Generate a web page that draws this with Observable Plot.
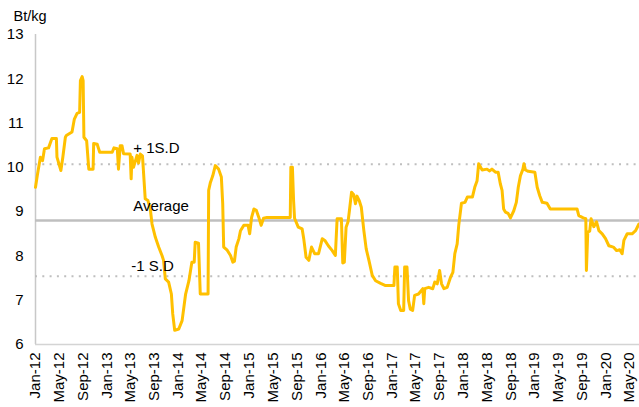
<!DOCTYPE html>
<html><head><meta charset="utf-8">
<script src="https://cdn.jsdelivr.net/npm/d3@7"></script>
<script src="https://cdn.jsdelivr.net/npm/@observablehq/plot@0.6"></script>
<style>body{margin:0;background:#fff} svg{display:block}</style>
</head><body><div id="chart"></div>
<script>
const dates = [
"2012-01-01","2012-01-10","2012-01-26","2012-02-06","2012-02-16","2012-03-08","2012-03-25","2012-04-17","2012-04-20","2012-05-10",
"2012-05-20","2012-06-02","2012-06-07","2012-07-06","2012-07-18","2012-08-01","2012-08-14","2012-08-18","2012-08-27","2012-09-01",
"2012-09-05","2012-09-19","2012-09-30","2012-10-22","2012-10-25","2012-11-12","2012-11-25","2013-01-28","2013-02-06","2013-02-23",
"2013-03-01","2013-03-10","2013-03-19","2013-03-27","2013-04-30","2013-05-05","2013-05-09","2013-05-17","2013-06-04","2013-06-12",
"2013-06-21","2013-07-02","2013-07-16","2013-07-30","2013-08-11","2013-08-20","2013-09-06","2013-09-23","2013-10-10","2013-10-18",
"2013-10-27","2013-11-13","2013-11-27","2013-12-04","2013-12-14","2014-01-04","2014-01-21","2014-02-08","2014-02-25","2014-03-12",
"2014-03-24","2014-03-29","2014-04-15","2014-04-24","2014-06-03","2014-06-06","2014-06-15","2014-06-27","2014-07-10","2014-07-27",
"2014-08-10","2014-08-17","2014-08-22","2014-09-09","2014-09-26","2014-10-08","2014-10-16","2014-10-25","2014-11-08","2014-11-16",
"2014-12-03","2014-12-25","2015-01-02","2015-01-12","2015-01-24","2015-02-05","2015-02-18","2015-03-02","2015-03-14","2015-04-01",
"2015-07-29","2015-08-01","2015-08-09","2015-08-15","2015-08-20","2015-09-08","2015-09-28","2015-10-06","2015-10-18","2015-11-01",
"2015-11-15","2015-12-01","2015-12-21","2016-01-09","2016-01-22","2016-02-09","2016-02-29","2016-03-16","2016-03-25","2016-04-16",
"2016-04-23","2016-05-01","2016-05-10","2016-05-20","2016-05-27","2016-06-07","2016-06-18","2016-06-27","2016-07-05","2016-07-17",
"2016-07-27","2016-08-09","2016-08-21","2016-09-04","2016-09-21","2016-10-08","2016-11-03","2016-11-28","2017-01-10","2017-01-15",
"2017-01-27","2017-02-02","2017-02-14","2017-03-01","2017-03-06","2017-03-18","2017-03-26","2017-04-04","2017-04-16","2017-04-26",
"2017-05-16","2017-06-07","2017-06-12","2017-06-17","2017-07-07","2017-07-28","2017-08-07","2017-08-20","2017-09-01","2017-09-11",
"2017-09-23","2017-10-10","2017-10-27","2017-11-08","2017-11-18","2017-11-30","2017-12-08","2017-12-22","2018-01-09","2018-01-21",
"2018-02-16","2018-02-28","2018-03-12","2018-03-20","2018-04-07","2018-05-02","2018-05-14","2018-05-27","2018-06-14","2018-06-28",
"2018-07-09","2018-07-18","2018-07-26","2018-08-04","2018-08-18","2018-08-30","2018-09-16","2018-09-29","2018-10-09","2018-10-20",
"2018-11-02","2018-11-07","2018-11-15","2018-11-29","2019-01-02","2019-01-14","2019-01-27","2019-02-09","2019-03-05","2019-03-22",
"2019-08-06","2019-08-15","2019-09-07","2019-09-20","2019-09-23","2019-09-30","2019-10-10","2019-10-17","2019-10-31","2019-11-14",
"2019-11-26","2019-12-13","2019-12-30","2020-01-16","2020-02-08","2020-02-25","2020-03-12","2020-03-24","2020-04-02","2020-04-19",
"2020-05-14","2020-06-01","2020-06-18"
];
const prices = [
9.55,9.81,10.23,10.15,10.42,10.44,10.65,10.65,10.23,9.93,
10.23,10.68,10.72,10.80,11.09,11.22,11.24,11.96,12.05,11.96,
10.68,10.60,9.96,9.96,10.54,10.52,10.34,10.34,10.44,10.42,
9.96,10.49,10.49,10.31,10.30,9.74,10.23,10.00,10.27,10.10,
10.30,10.26,9.29,9.25,9.06,8.72,8.42,8.20,8.01,7.90,
7.48,7.41,7.14,6.69,6.32,6.35,6.54,7.14,7.44,7.86,
7.86,8.31,8.29,7.14,7.14,9.48,9.66,9.81,10.04,9.96,
9.78,9.18,8.20,8.13,8.01,7.86,7.88,8.20,8.39,8.57,
8.69,8.69,8.50,8.87,9.06,9.03,8.87,8.69,8.85,8.87,
8.87,10.00,10.00,9.25,8.85,8.65,8.61,8.39,7.97,7.90,
8.20,8.05,8.05,8.39,8.35,8.23,8.12,8.01,8.84,8.84,
7.84,7.86,8.65,8.77,9.02,9.44,9.38,9.18,9.35,9.24,
9.10,8.57,8.16,7.90,7.56,7.44,7.38,7.33,7.33,7.75,
7.75,6.92,6.77,6.77,7.75,7.75,6.99,6.80,6.77,7.11,
7.14,7.26,6.92,7.26,7.29,7.26,7.41,7.37,7.67,7.37,
7.26,7.29,7.52,7.63,8.05,8.27,8.69,9.19,9.21,9.33,
9.33,9.55,9.70,10.08,9.94,9.96,9.92,9.96,9.89,9.89,
9.63,9.48,9.06,8.99,8.96,8.86,9.02,9.21,9.55,9.81,
9.96,10.08,9.94,9.91,9.89,9.55,9.36,9.21,9.19,9.06,
9.06,8.91,8.86,8.84,7.67,8.54,8.56,8.84,8.66,8.77,
8.57,8.50,8.39,8.23,8.20,8.12,8.14,8.05,8.35,8.50,
8.50,8.57,8.72
];
const xTickLabels = ["Jan-12","May-12","Sep-12","Jan-13","May-13","Sep-13","Jan-14","May-14","Sep-14",
"Jan-15","May-15","Sep-15","Jan-16","May-16","Sep-16","Jan-17","May-17","Sep-17","Jan-18","May-18",
"Sep-18","Jan-19","May-19","Sep-19","Jan-20","May-20"];
const yTicks = [6,7,8,9,10,11,12,13];
const xDomain = ["2012-01-01","2020-06-21"];
const unitLabel = "Bt/kg";
const refNames = ["+ 1S.D","Average","-1 S.D"];
const refValues = [10.07, 8.80, 7.54];
const refLabelY = [10.44, 9.12, 7.77];
const refLabelX = ["2013-05-16","2013-05-16","2013-05-06"];

const parse = d3.utcParse("%Y-%m-%d");
const parseTick = d3.utcParse("%b-%y");
const series = dates.map((d, i) => ({date: parse(d), value: prices[i]}));
const ticks = xTickLabels.map(parseTick);
const refs = refNames.map((n, i) => ({name: n, value: refValues[i], ly: refLabelY[i], lx: parse(refLabelX[i])}));
const font = "'Liberation Sans', Arial, sans-serif";

const chart = Plot.plot({
  width: 639, height: 407,
  marginLeft: 35, marginRight: 0, marginTop: 34, marginBottom: 63,
  style: {fontFamily: font, fontSize: "15px", color: "#000", background: "#fff"},
  x: {type: "utc", domain: xDomain.map(parse)},
  y: {domain: [6, 13]},
  marks: [
    Plot.axisY({ticks: yTicks, tickFormat: d3.format("d"), tickSize: 0, tickPadding: 12, label: null, fontSize: 15}),
    Plot.axisX({ticks, tickFormat: d3.utcFormat("%b-%y"), tickRotate: -90, tickSize: 0, tickPadding: 8, label: null, fontSize: 15}),
    Plot.ruleX([parse(xDomain[0])], {y1: 6, y2: 13, stroke: "#c8c8c8", strokeWidth: 1.5}),
    Plot.ruleY([6], {stroke: "#d4d4d4", strokeWidth: 1.5}),
    Plot.ruleY(refs.filter(r => r.name === "Average"), {y: "value", stroke: "#bfbfbf", strokeWidth: 2.6}),
    Plot.ruleY(refs.filter(r => r.name !== "Average"), {y: "value", stroke: "#bfbfbf", strokeWidth: 2, strokeDasharray: "2,5.3"}),
    Plot.line(series, {x: "date", y: "value", stroke: "#FFC000", strokeWidth: 3, strokeLinejoin: "round"}),
    Plot.text(refs, {x: "lx", y: "ly", text: "name", textAnchor: "start", fill: "#000", fontSize: 15}),
    Plot.text([unitLabel], {frameAnchor: "top-left", dx: -22, dy: -24, textAnchor: "start", lineAnchor: "top", fill: "#000", fontSize: 14.5})
  ]
});
document.getElementById("chart").appendChild(chart);
</script>
</body></html>
